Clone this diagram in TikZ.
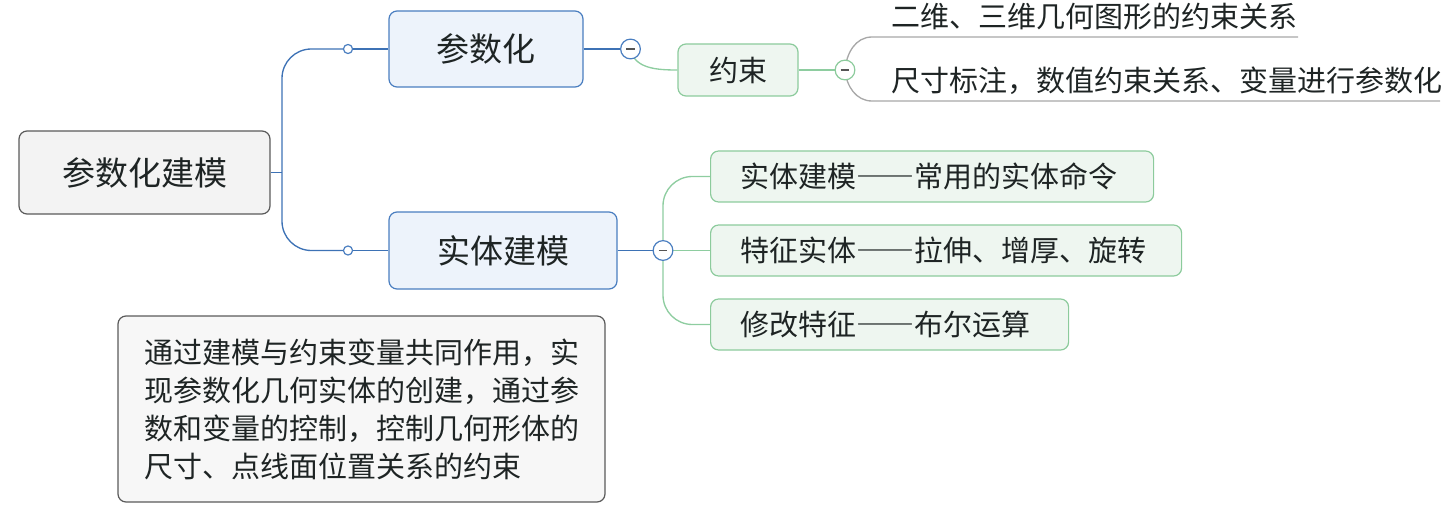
\documentclass[tikz,border=0pt]{standalone}
\usepackage{fontspec}
\setmainfont{Noto Sans CJK SC}
\newfontfamily\fwdash{Noto Sans CJK SC}[RawFeature=+fwid]
\newcommand\cjkdash{{\fwdash ——}}
\definecolor{blueS}{HTML}{4A7EC0}
\definecolor{blueF}{HTML}{EDF3FB}
\definecolor{blueL}{HTML}{3D72B5}
\definecolor{greenS}{HTML}{8CCB9C}
\definecolor{greenF}{HTML}{EEF6F0}
\definecolor{greenL}{HTML}{8ECDA0}
\definecolor{rootS}{HTML}{5A5A5A}
\definecolor{rootF}{HTML}{F3F3F3}
\definecolor{noteF}{HTML}{F7F7F7}
\definecolor{grayL}{HTML}{A8A8A8}
\definecolor{txt}{HTML}{1E2424}
\definecolor{minusC}{HTML}{555555}
\begin{document}
\begin{tikzpicture}[x=0.75pt,y=-0.75pt,
  box/.style={rounded corners=6pt, line width=0.9pt, inner sep=0pt, text=txt},
  bigfont/.style={font=\fontsize{24.75}{30}\selectfont},
  smallfont/.style={font=\fontsize{21.75}{26}\selectfont},
  rootbox/.style={box, bigfont, draw=rootS, fill=rootF},
  mainbox/.style={box, bigfont, draw=blueS, fill=blueF},
  leafbox/.style={box, smallfont, draw=greenS, fill=greenF},
  notebox/.style={box, smallfont, draw=rootS, fill=noteF, align=left},
  plaintext/.style={smallfont, text=txt, inner sep=0pt, anchor=west},
  bl/.style={draw=blueL, line width=1pt},
  gn/.style={draw=greenL, line width=1pt},
  gl/.style={draw=grayL, line width=1pt},
  togbl/.style={circle, draw=blueS, fill=white, line width=0.9pt, minimum size=14.8pt, inner sep=0pt},
  toggn/.style={circle, draw=greenS, fill=white, line width=0.9pt, minimum size=14.8pt, inner sep=0pt},
  dot/.style={circle, draw=blueS, fill=white, line width=0.9pt, minimum size=6.8pt, inner sep=0pt},
  minus/.style={draw=minusC, line width=1pt}
]
\useasboundingbox (0,0) rectangle (1449,506);

% nodes
\node[rootbox, minimum width=188.25pt, minimum height=62.25pt] (root) at (144.5,172.5) {参数化建模};
\node[mainbox, minimum width=145.5pt, minimum height=57pt] (p1) at (486,49) {参数化};
\node[mainbox, minimum width=171pt, minimum height=57.75pt] (p2) at (503,250.5) {实体建模};
\node[leafbox, minimum width=90pt, minimum height=39pt] (yue) at (738,70) {约束};
\node[leafbox, anchor=west, inner xsep=22.5pt, text width=287.25pt, align=left, minimum height=38.25pt] (k1) at (710,176.5) {实体建模\cjkdash 常用的实体命令};
\node[leafbox, anchor=west, inner xsep=22.5pt, text width=308.25pt, align=left, minimum height=38.25pt] (k2) at (710,250.5) {特征实体\cjkdash 拉伸、增厚、旋转};
\node[leafbox, anchor=west, inner xsep=22.5pt, text width=223.5pt, align=left, minimum height=38.25pt] (k3) at (710,324.5) {修改特征\cjkdash 布尔运算};
\node[plaintext] (t1) at (891,17) {二维、三维几何图形的约束关系};
\node[plaintext] (t2) at (891,81) {尺寸标注，数值约束关系、变量进行参数化};
\node[notebox, minimum width=365.25pt, minimum height=139.5pt, text width=326.25pt,
      font=\fontsize{21.75}{28.5}\selectfont] (note) at (361.5,409)
  {通过建模与约束变量共同作用，实\\现参数化几何实体的创建，通过参\\数和变量的控制，控制几何形体的\\尺寸、点线面位置关系的约束};

% helper coordinates
\coordinate (tk) at (282,172.5);
\coordinate (d1) at (348,49);
\coordinate (d2) at (348,250.5);
\coordinate (c1) at (630.5,49);
\coordinate (c2) at (845,70);
\coordinate (c3) at (663,250.5);
\coordinate (u1s) at (872,37);
\coordinate (u1e) at (1298,37);
\coordinate (u2s) at (872,101);
\coordinate (u2e) at (1440,101);

% connectors
\draw[bl] (root.east) -- (tk);
\draw[bl, rounded corners=22pt] (d1) -- (tk |- d1) -- (tk |- d2) -- (d2);
\draw[bl] (d1) -- (p1.west);
\draw[bl] (d2) -- (p2.west);
\draw[bl] (p1.east) -- (c1);
\draw[gn] (c1) to[out=-80,in=180] (yue.west);
\draw[gn] (yue.east) -- (c2);
\draw[gl] (c2) to[out=85,in=180] (u1s) -- (u1e);
\draw[gl] (c2) to[out=-85,in=180] (u2s) -- (u2e);
\draw[bl] (p2.east) -- (c3);
\draw[gn, rounded corners=22pt] (c3) -- (c3 |- k1.west) -- (k1.west);
\draw[gn] (c3) -- (k2.west);
\draw[gn, rounded corners=22pt] (c3) -- (c3 |- k3.west) -- (k3.west);

% toggles and dots
\node[dot] (d1n) at (d1) {};
\node[dot] (d2n) at (d2) {};
\node[togbl] (c1n) at (c1) {};
\node[toggn] (c2n) at (c2) {};
\node[togbl] (c3n) at (c3) {};
\foreach \c in {c1n,c2n,c3n}
  \draw[minus] ([xshift=-3.3pt]\c.center) -- ([xshift=3.3pt]\c.center);
\end{tikzpicture}
\end{document}
